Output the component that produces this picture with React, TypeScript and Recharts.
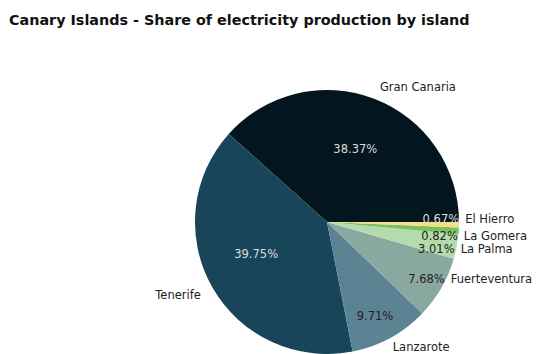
import React from 'react';
import { PieChart, Pie, Cell } from 'recharts';

const TITLE = 'Canary Islands - Share of electricity production by island';
const ISLANDS = ['Gran Canaria', 'Tenerife', 'Lanzarote', 'Fuerteventura', 'La Palma', 'La Gomera', 'El Hierro'];
const SHARES = [38.37, 39.75, 9.71, 7.68, 3.01, 0.82, 0.67];

const COLORS = ['#03161f', '#18455a', '#5b8394', '#88a8a0', '#b3dbab', '#7cbf5e', '#f3df85'];
const PCT_COLORS = ['#dcdcdc', '#dcdcdc', '#222222', '#222222', '#222222', '#222222', '#dcdcdc'];
// layout nudges (px) applied to geometric label positions to avoid overlap
const NAME_NUDGE: [number, number][] = [[1, 0.6], [0, 1], [-4, -2.4], [-2, -15.6], [-9, 0], [-8, 4], [-7, -6]];
const PCT_NUDGE: [number, number][] = [[0, 1], [-2, -7], [10, 25]];

const data = ISLANDS.map((name, i) => ({ name, value: SHARES[i] }));

const RAD = Math.PI / 180;
const FONT = '"DejaVu Sans", sans-serif';

const renderLabel = (props: any) => {
  const { cx, cy, midAngle, outerRadius, index } = props;
  const cos = Math.cos(-midAngle * RAD);
  const sin = Math.sin(-midAngle * RAD);
  const [ndx, ndy] = NAME_NUDGE[index];
  const nx = cx + outerRadius * 1.1 * cos + ndx;
  const ny = cy + outerRadius * 1.1 * sin + ndy;
  const anchor = cos >= 0 ? 'start' : 'end';
  let px: number, py: number, pAnchor: string;
  if (index < PCT_NUDGE.length) {
    px = cx + outerRadius * 0.6 * cos + PCT_NUDGE[index][0];
    py = cy + outerRadius * 0.6 * sin + PCT_NUDGE[index][1];
    pAnchor = 'middle';
  } else {
    px = nx - 6;
    py = ny;
    pAnchor = 'end';
  }
  return (
    <g key={`lbl-${index}`}>
      <text x={nx} y={ny} textAnchor={anchor} dominantBaseline="central" fill="#222" fontSize={11.5} fontFamily={FONT}>
        {ISLANDS[index]}
      </text>
      <text x={px} y={py} textAnchor={pAnchor} dominantBaseline="central" fill={PCT_COLORS[index]} fontSize={11.5} fontFamily={FONT}>
        {SHARES[index].toFixed(2)}%
      </text>
    </g>
  );
};

export default function App() {
  return (
    <div style={{ position: 'absolute', left: 0, top: 0, width: 536, height: 354, background: '#fff', overflow: 'hidden' }}>
      <div
        style={{
          position: 'absolute',
          left: 9,
          top: 10,
          fontFamily: FONT,
          fontWeight: 'bold',
          fontSize: 14.35,
          color: '#111',
          whiteSpace: 'nowrap',
          lineHeight: '20px',
        }}
      >
        {TITLE}
      </div>
      <PieChart width={536} height={354} margin={{ top: 0, right: 0, bottom: 0, left: 0 }}>
        <Pie
          data={data}
          dataKey="value"
          nameKey="name"
          cx={327}
          cy={222}
          outerRadius={132}
          startAngle={0}
          endAngle={360}
          stroke="none"
          label={renderLabel}
          labelLine={false}
          isAnimationActive={false}
        >
          {data.map((d, i) => (
            <Cell key={d.name} fill={COLORS[i]} />
          ))}
        </Pie>
      </PieChart>
    </div>
  );
}
